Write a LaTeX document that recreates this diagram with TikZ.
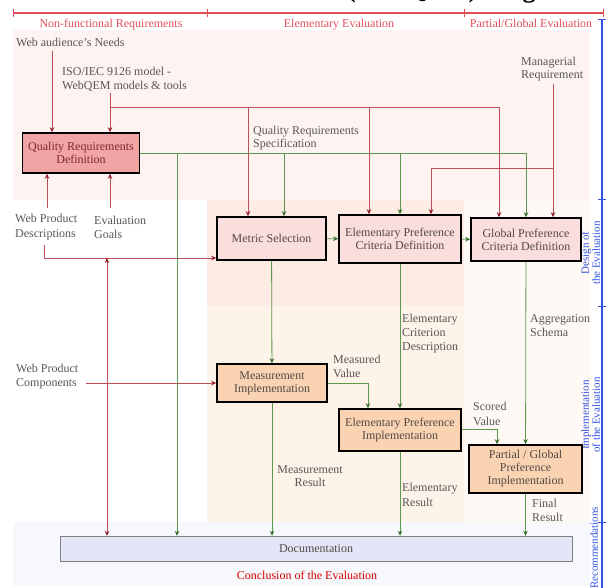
\documentclass[tikz,border=0pt]{standalone}
\usepackage{fontspec}
\setmainfont{Liberation Serif}
\usetikzlibrary{positioning,arrows.meta}

\definecolor{lnred}{RGB}{192,78,90}
\definecolor{tipred}{RGB}{150,30,42}
\definecolor{lngreen}{RGB}{92,152,76}
\definecolor{tipgreen}{RGB}{50,110,40}
\definecolor{hdred}{RGB}{226,78,90}
\definecolor{stblue}{RGB}{52,84,226}
\definecolor{txtgray}{RGB}{88,86,86}
\definecolor{boxtxt}{RGB}{84,72,70}
\definecolor{qrdfill}{RGB}{240,164,164}
\definecolor{qrdtxt}{RGB}{128,40,44}
\definecolor{deffill}{RGB}{250,222,222}
\definecolor{impfill}{RGB}{250,212,178}
\definecolor{docfill}{RGB}{228,230,248}
\definecolor{topband}{RGB}{253,244,242}
\definecolor{elemdes}{RGB}{252,236,228}
\definecolor{elemimp}{RGB}{253,243,233}
\definecolor{rightcol}{RGB}{254,249,244}
\definecolor{botband}{RGB}{246,248,252}

\newcommand{\lblfont}{\fontsize{12}{14}\selectfont}
\newcommand{\stfont}{\fontsize{11}{11}\selectfont}

\begin{document}
\begin{tikzpicture}[>={Stealth[length=5pt,width=4.5pt]},x=1pt,y=-1pt,
  box/.style={draw,line width=1.6pt,align=center,inner sep=0pt,font=\fontsize{12}{13}\selectfont},
  defbox/.style={box,fill=deffill,text=boxtxt},
  impbox/.style={box,fill=impfill,text=boxtxt},
  lbl/.style={align=left,inner sep=0pt,anchor=base west,text=txtgray,font=\lblfont},
  rline/.style={draw=lnred,line width=0.8pt,>={Stealth[length=5pt,width=4.5pt,color=tipred]}},
  gline/.style={draw=lngreen,line width=0.8pt,>={Stealth[length=5pt,width=4.5pt,color=tipgreen]}},
  phase/.style={text=hdred,font=\lblfont,anchor=base,inner sep=0pt},
  stage/.style={text=stblue,font=\stfont,rotate=90,align=center,inner sep=0pt}]

  \useasboundingbox (0,0) rectangle (608,588);

  % background bands
  \fill[topband] (13,30) rectangle (590,200);
  \fill[elemdes] (207,200) rectangle (464,306);
  \fill[elemimp] (207,306) rectangle (464,522);
  \fill[rightcol] (464,200) rectangle (590,522);
  \fill[botband] (13,522) rectangle (590,586);

  % title, cut by the page
  \node[anchor=base west,inner sep=0pt,font=\bfseries\fontsize{26}{26}\selectfont] (title) at (347,-2) {(WebQEM) Diagram};

  % phases
  \draw[hdred,line width=1.6pt] (13,13) -- (603,13);
  \foreach \x in {13,207,464,603}
    \draw[hdred,line width=1pt] (\x,9) -- (\x,17);
  \node[phase] (ph1) at (111,28) {Non-functional Requirements};
  \node[phase] (ph2) at (339,28) {Elementary Evaluation};
  \node[phase] (ph3) at (531,28) {Partial/Global Evaluation};

  % stages
  \draw[stblue,line width=2pt] (602,20) -- (602,588);
  \foreach \y in {20,200,306,522}
    \draw[stblue,line width=1pt] (598,\y) -- (606,\y);
  \node[stage] (st1) at (590.5,253) {Design of\\the Evaluation};
  \node[stage] (st2) at (590.5,415) {Implementation\\of the Evaluation};
  \node[stage] (st3) at (594,548) {Recommendations};

  % boxes
  \node[box,fill=qrdfill,text=qrdtxt,minimum width=117,minimum height=40] (qrd) at (81,153) {Quality Requirements\\Definition};
  \node[defbox,minimum width=109,minimum height=43] (msel) at (271.5,238.5) {Metric Selection};
  \node[defbox,minimum width=122,minimum height=48] (epcd) at (400,239) {Elementary Preference\\Criteria Definition};
  \node[defbox,minimum width=110,minimum height=43] (gpcd) at (526,239.5) {Global Preference\\Criteria Definition};
  \node[impbox,minimum width=110,minimum height=38] (mimp) at (272,383) {Measurement\\Implementation};
  \node[impbox,minimum width=122,minimum height=42] (eimp) at (400,430) {Elementary Preference\\Implementation};
  \node[impbox,minimum width=113,minimum height=48] (gimp) at (525.5,469) {Partial / Global\\Preference\\Implementation};
  \node[draw=gray,fill=docfill,text=boxtxt,font=\lblfont,minimum width=512,minimum height=25,inner sep=0pt] (doc) at (316,548.5) {Documentation};
  \node[text=red!85!black,font=\lblfont] (concl) at (307,575) {Conclusion of the Evaluation};

  % labels (base = last line)
  \node[lbl] (needs) at (16,47) {Web audience's Needs};
  \node[lbl] (iso) at (62,90) {ISO/IEC 9126 model -\\WebQEM models \& tools};
  \node[lbl,font=\fontsize{12}{13}\selectfont] (mgr) at (521,79) {Managerial\\Requirement};
  \node[lbl,font=\fontsize{12}{13}\selectfont] (qrs) at (253,148) {Quality Requirements\\Specification};
  \node[lbl,font=\fontsize{12}{15}\selectfont] (wpd) at (15,238) {Web Product\\Descriptions};
  \node[lbl] (goals) at (94,239) {Evaluation\\Goals};
  \node[lbl] (wpc) at (16,386) {Web Product\\Components};
  \node[lbl] (mval) at (333,377) {Measured\\Value};
  \node[lbl] (ecd) at (402,350) {Elementary\\Criterion\\Description};
  \node[lbl] (aggr) at (530,336) {Aggregation\\Schema};
  \node[lbl,font=\fontsize{12}{15}\selectfont] (sval) at (473,425) {Scored\\Value};
  \node[lbl,anchor=base,align=center,font=\fontsize{12}{13}\selectfont] (mres) at (310,486) {Measurement\\Result};
  \node[lbl,font=\fontsize{12}{15}\selectfont] (eres) at (402,506) {Elementary\\Result};
  \node[lbl] (fres) at (532,521) {Final\\Result};

  % red flows
  \coordinate (nd) at (52,51);
  \coordinate (is) at (110,93);
  \draw[rline,->] (nd) -- (nd |- qrd.north);
  \draw[rline,->] (is) -- (is |- qrd.north);
  \coordinate (r1) at (248,107);
  \coordinate (r2) at (369,107);
  \coordinate (r3) at (499,107);
  \draw[rline] (is |- r1) -- (r3);
  \draw[rline,->] (r1) -- (r1 |- msel.north);
  \draw[rline,->] (r2) -- (r2 |- epcd.north);
  \draw[rline,->] (r3) -- (r3 |- gpcd.north);
  \coordinate (mg) at (553,84);
  \coordinate (m1) at (553,168);
  \coordinate (m2) at (431,168);
  \draw[rline,->] (mg) -- (mg |- gpcd.north);
  \draw[rline,->] (m1) -- (m2) -- (m2 |- epcd.north);
  \coordinate (dup) at (47,208);
  \coordinate (gup) at (110,208);
  \draw[rline,->] (dup) -- (dup |- qrd.south);
  \draw[rline,->] (gup) -- (gup |- qrd.south);
  \coordinate (w1) at (44,245);
  \coordinate (w2) at (44,258);
  \coordinate (w3) at (107,258);
  \draw[rline,->] (w1) -- (w2) -- (w2 -| msel.west);
  \draw[rline,<->] (w3) -- (w3 |- doc.north);
  \coordinate (cp) at (86,383);
  \draw[rline,->] (cp) -- (cp -| mimp.west);

  % green flows
  \coordinate (g1) at (177,153);
  \coordinate (g2) at (284,153);
  \coordinate (g3) at (400,153);
  \coordinate (g4) at (526,153);
  \draw[gline] (qrd.east) -- (g4);
  \draw[gline,->] (g1) -- (g1 |- doc.north);
  \draw[gline,->] (g2) -- (g2 |- msel.north);
  \draw[gline,->] (g3) -- (g3 |- epcd.north);
  \draw[gline,->] (g4) -- (g4 |- gpcd.north);
  \path[gline,->]
    (msel) edge (epcd)
    (epcd) edge (gpcd)
    (msel) edge (mimp)
    (epcd) edge (eimp)
    (gpcd) edge (gimp);
  \coordinate (mv) at (368,383);
  \coordinate (sv) at (497,429);
  \draw[gline,->] (mimp.east |- mv) -- (mv) -- (mv |- eimp.north);
  \draw[gline,->] (eimp.east |- sv) -- (sv) -- (sv |- gimp.north);
  \draw[gline,->] (mimp.south) -- (mimp.south |- doc.north);
  \draw[gline,->] (eimp.south) -- (eimp.south |- doc.north);
  \draw[gline,->] (gimp.south) -- (gimp.south |- doc.north);
\end{tikzpicture}
\end{document}
